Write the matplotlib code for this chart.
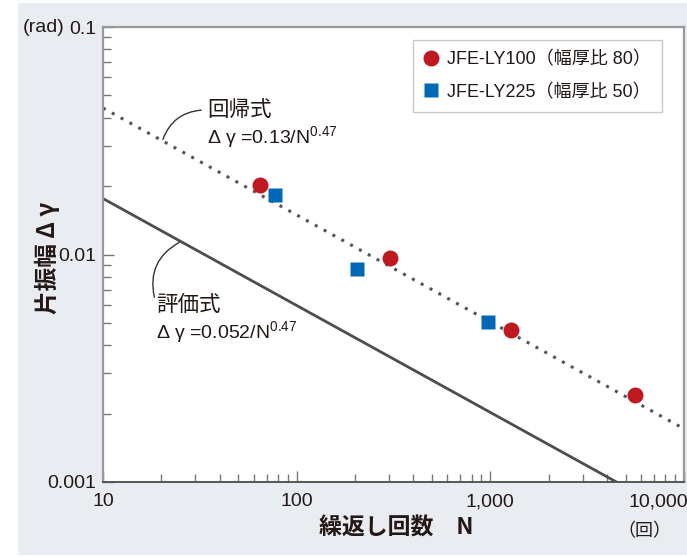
import matplotlib
matplotlib.use("Agg")
import matplotlib.pyplot as plt
import matplotlib.ticker as mticker
import matplotlib.transforms as mtransforms
from matplotlib import font_manager
from matplotlib.patches import Rectangle, FancyArrowPatch
import numpy as np

# ---- data ----
ly100_N = [65, 305, 1280, 5600]
ly100_g = [0.0202, 0.0097, 0.00468, 0.00241]
ly225_N = [77, 204, 970]
ly225_g = [0.0183, 0.00865, 0.00505]
reg_coef, reg_exp = 0.13, 0.47
eva_coef, eva_exp = 0.052, 0.47
xticks = [10, 100, 1000, 10000]
xticklabels = ["10", "100", "1,000", "10,000"]
yticks = [0.001, 0.01, 0.1]
yticklabels = ["0.001", "0.01", "0.1"]

# ---- fonts ----
def have(name):
    try:
        font_manager.findfont(name, fallback_to_default=False)
        return True
    except Exception:
        return False

latin = "Liberation Sans Narrow" if have("Liberation Sans Narrow") else "Liberation Sans"
CJK = "Noto Sans CJK JP"
plt.rcParams["font.family"] = [latin, CJK, "DejaVu Sans"]
plt.rcParams["mathtext.fontset"] = "custom"
plt.rcParams["mathtext.rm"] = latin
plt.rcParams["mathtext.it"] = latin
plt.rcParams["mathtext.default"] = "regular"

W, H = 687, 558
fig = plt.figure(figsize=(W / 100, H / 100), dpi=100, facecolor="white")
fig.patches.append(Rectangle((18 / W, 3 / H), 1 - 18 / W, 552 / H,
                             transform=fig.transFigure, facecolor="#E9EDF1",
                             edgecolor="none", zorder=-10))

def px(x0, y0, x1, y1):
    return [x0 / W, 1 - y1 / H, (x1 - x0) / W, (y1 - y0) / H]

ax = fig.add_axes(px(103, 27, 684, 482))
ax.set_zorder(1)
ax.set_facecolor("white")
ax.set_xscale("log")
ax.set_yscale("log")
ax.set_xlim(10, 10000)
ax.set_ylim(0.001, 0.1)

Nline = np.logspace(1, 4, 200)
ax.plot(Nline, reg_coef / Nline ** reg_exp, color="#555555", lw=2.2,
        linestyle=(0, (1.0, 2.3)), zorder=2)
ax.plot(Nline, eva_coef / Nline ** eva_exp, color="#4d4d4d", lw=2.0, zorder=2)

ax.plot(ly100_N, ly100_g, "o", color="#C0181F", ms=11.5, mec="none", zorder=3,
        label="JFE-LY100（幅厚比 80）")
ax.plot(ly225_N, ly225_g, "s", color="#0068B7", ms=10, mec="none", zorder=3,
        label="JFE-LY225（幅厚比 50）")

leg = ax.legend(loc="upper right", bbox_to_anchor=(0.962, 0.971), fontsize=13,
                frameon=True, fancybox=False, edgecolor="#BBBBBB",
                handlelength=0.8, handletextpad=0.5, borderpad=0.6,
                labelspacing=0.85, borderaxespad=0)
leg.get_frame().set_linewidth(1.0)
for t in leg.get_texts():
    t.set_color("#231815")

# spines
for s in ["top", "right", "left"]:
    ax.spines[s].set_color("#999999")
    ax.spines[s].set_linewidth(1.6)
ax.spines["bottom"].set_color("#555555")
ax.spines["bottom"].set_linewidth(1.4)

ax.set_xticks(xticks, xticklabels)
ax.set_yticks(yticks, yticklabels)
ax.tick_params(which="major", direction="in", length=8, width=1, color="#777777",
               labelsize=14, labelcolor="#231815")
ax.tick_params(which="minor", direction="in", length=6, width=1, color="#777777")
ax.tick_params(axis="x", pad=8)
ax.tick_params(axis="y", pad=5)
ax.yaxis.set_minor_formatter(mticker.NullFormatter())
ax.xaxis.set_minor_formatter(mticker.NullFormatter())

lab = ax.get_xticklabels()[-1]
lab.set_horizontalalignment("right")
lab.set_transform(lab.get_transform() + mtransforms.ScaledTranslation(4 / 100, 0, fig.dpi_scale_trans))

# axis labels (in figure pixel space)
def ftext(x, y, s, **kw):
    fig.text(x / W, 1 - y / H, s, **kw)

ftext(47, 258, "片振幅 Δ γ", rotation=90, ha="center", va="center",
      fontsize=17, fontweight="bold", family=[CJK], color="#231815")
ftext(396, 528, "繰返し回数　N", ha="center", va="center",
      fontsize=16.5, fontweight="bold", family=[CJK, latin], color="#231815")
ftext(644, 531, "（回）", ha="center", va="center", fontsize=13,
      family=[CJK], color="#231815")
ftext(65, 27, "(rad)", ha="right", va="center", fontsize=14,
      family=[latin, CJK], color="#231815")

# annotations
ftext(207, 110, "回帰式", ha="left", va="center", fontsize=15.5, family=[CJK], color="#231815")
ftext(207, 137, "Δ γ =0.13/N$^{0.47}$", ha="left", va="center", fontsize=14, color="#231815")
ftext(156, 305, "評価式", ha="left", va="center", fontsize=15.5, family=[CJK], color="#231815")
ftext(156, 332, "Δ γ =0.052/N$^{0.47}$", ha="left", va="center", fontsize=14, color="#231815")

# leader curves (figure pixel space)
def leader(p0, p1, rad):
    a = (p0[0] / W, 1 - p0[1] / H)
    b = (p1[0] / W, 1 - p1[1] / H)
    fig.patches.append(FancyArrowPatch(a, b, arrowstyle="-", transform=fig.transFigure,
                                       connectionstyle=f"arc3,rad={rad}",
                                       color="#333333", lw=1, zorder=5))

leader((162, 142), (204, 110), -0.35)
leader((182, 241), (155, 300), 0.4)

fig.savefig("out.png", dpi=100, facecolor="white")
